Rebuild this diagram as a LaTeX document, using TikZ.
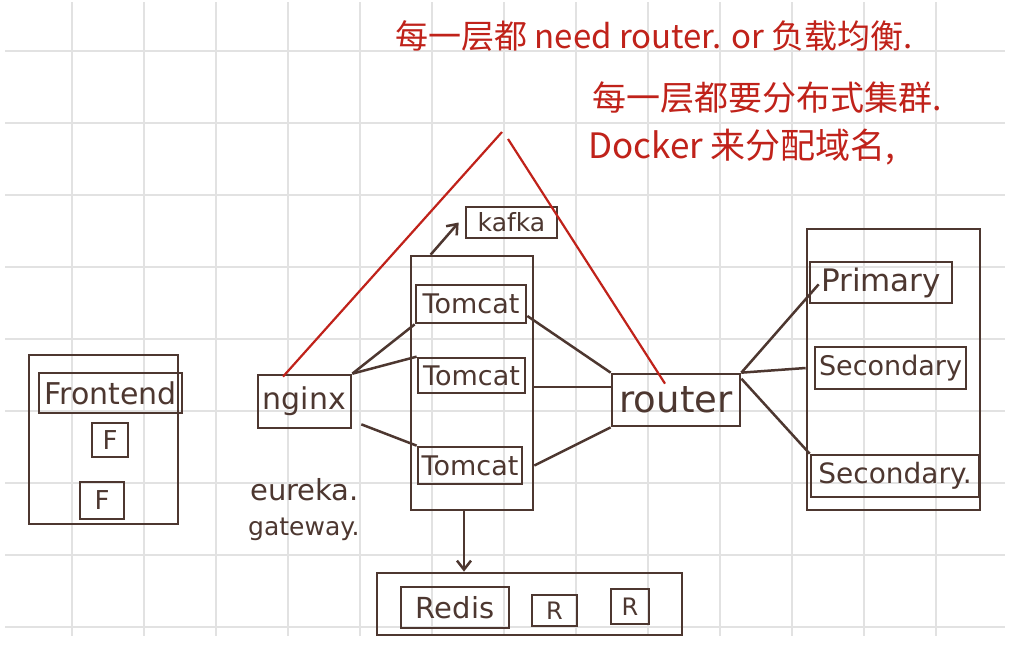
\documentclass[tikz,border=0pt]{standalone}
\usepackage{fontspec}
\setmainfont{DejaVu Sans}
\newfontfamily\cjk{Noto Sans CJK SC}
\usetikzlibrary{arrows.meta,calc}
\definecolor{ink}{RGB}{77,55,48}
\definecolor{redink}{RGB}{192,34,26}
\definecolor{gridc}{RGB}{226,226,226}
\newcommand\myfs[1]{\fontsize{#1}{#1}\selectfont}
\tikzset{
 bx/.style={draw=ink, line width=2.7pt, rectangle, inner sep=0pt, text=ink},
 wire/.style={draw=ink, line width=2.5pt},
 redl/.style={draw=redink, line width=2.2pt},
 note/.style={text=redink, inner sep=0pt, font=\cjk\myfs{33}},
 hand/.style={text=ink, inner sep=0pt},
 tip/.style={-{Straight Barb[length=9pt,width=14pt]}},
}
\begin{document}
\begin{tikzpicture}[x=1pt,y=-1pt]
\useasboundingbox (0,0) rectangle (1014,648);
\fill[white] (0,0) rectangle (1014,648);
\foreach \x in {72,144,...,936} \draw[gridc,line width=1.4pt] (\x,2) -- (\x,636);
\foreach \y in {51,123,...,627} \draw[gridc,line width=1.4pt] (5,\y) -- (1005,\y);

% frontend group
\node[bx,minimum width=149,minimum height=169] (feo) at (103.5,439.5) {};
\node[bx,minimum width=143,minimum height=40,font=\myfs{30}] (fe) at (110.5,393) {Frontend};
\node[bx,minimum width=36,minimum height=34,font=\myfs{26}] (f1) at (110,440) {F};
\node[bx,minimum width=44,minimum height=37,font=\myfs{26}] (f2) at (102,500.5) {F};

% nginx
\node[bx,minimum width=93,minimum height=53,font=\myfs{30}] (ngx) at (304.5,401.5) {nginx};
\node[hand,font=\myfs{29},anchor=base west] (eur) at (250,500) {eureka.};
\node[hand,font=\myfs{25},anchor=base west] (gw) at (248,535) {gateway.};

% tomcat group
\node[bx,minimum width=91,minimum height=31,font=\myfs{25}] (kafka) at (511.5,222.5) {kafka};
\node[bx,minimum width=122,minimum height=254] (tc) at (472,383) {};
\node[bx,minimum width=110,minimum height=38,font=\myfs{27}] (t1) at (471,304) {Tomcat};
\node[bx,minimum width=107,minimum height=35,font=\myfs{27}] (t2) at (471.5,375.5) {Tomcat};
\node[bx,minimum width=104,minimum height=37,font=\myfs{27}] (t3) at (470,465.5) {Tomcat};

% router
\node[bx,minimum width=128,minimum height=52,font=\myfs{37}] (router) at (676,400) {router};

% database group
\node[bx,minimum width=173,minimum height=281] (dbo) at (893.5,369.5) {};
\node[bx,minimum width=142,minimum height=41,font=\myfs{31}] (prim) at (881,282.5) {Primary};
\node[bx,minimum width=151,minimum height=42,font=\myfs{27}] (sec1) at (890.5,368) {Secondary};
\node[bx,minimum width=168,minimum height=42,font=\myfs{28}] (sec2) at (895,476) {Secondary.};

% redis group
\node[bx,minimum width=305,minimum height=62] (rdo) at (529.5,604) {};
\node[bx,minimum width=108,minimum height=41,font=\myfs{29}] (redis) at (455,607.5) {Redis};
\node[bx,minimum width=45,minimum height=31,font=\myfs{24}] (r1) at (554.5,610.5) {R};
\node[bx,minimum width=38,minimum height=35,font=\myfs{24}] (r2) at (630,606.5) {R};

% connectors
\draw[wire] (ngx.north east) -- (t1.south west);
\draw[wire] (ngx.north east) -- (t2.north west);
\draw[wire] ([xshift=9pt,yshift=5pt]ngx.south east) -- (t3.north west);
\draw[wire] ([yshift=-12pt]t1.east) -- (router.north west);
\draw[wire] ([xshift=6pt,yshift=-11.5pt]t2.east) coordinate (t2r) -- (t2r -| router.west);
\draw[wire] (t3.east -| tc.east) -- (router.south west);
\draw[wire] (router.north east) -- ([xshift=10pt,yshift=20pt]prim.south west);
\draw[wire] (router.north east) -- (sec1.west -| dbo.west);
\draw[wire] ([yshift=-6pt]router.north east) -- (sec2.north west);
\draw[wire,tip] ([xshift=-8pt]tc.south) coordinate (ts) -- (ts |- rdo.north);
\draw[wire,tip] ([xshift=21pt]tc.north west) -- ([xshift=-6pt]kafka.west);

% red annotation
\coordinate (apL) at (502,132);
\coordinate (apR) at (508,139);
\draw[redl] ([xshift=-21.5pt,yshift=-3pt]ngx.north) -- (apL);
\draw[redl] (apR) -- ([xshift=-11pt,yshift=-11pt]router.north);
\node[note,anchor=base west] (n1) at (395,48) {每一层都 need router. or 负载均衡.};
\node[note,anchor=base west,font=\cjk\myfs{34}] (n2) at (592,110) {每一层都要分布式集群.};
\node[note,anchor=base west,font=\cjk\myfs{35}] (n3) at (588,158) {Docker 来分配域名,};
\end{tikzpicture}
\end{document}
